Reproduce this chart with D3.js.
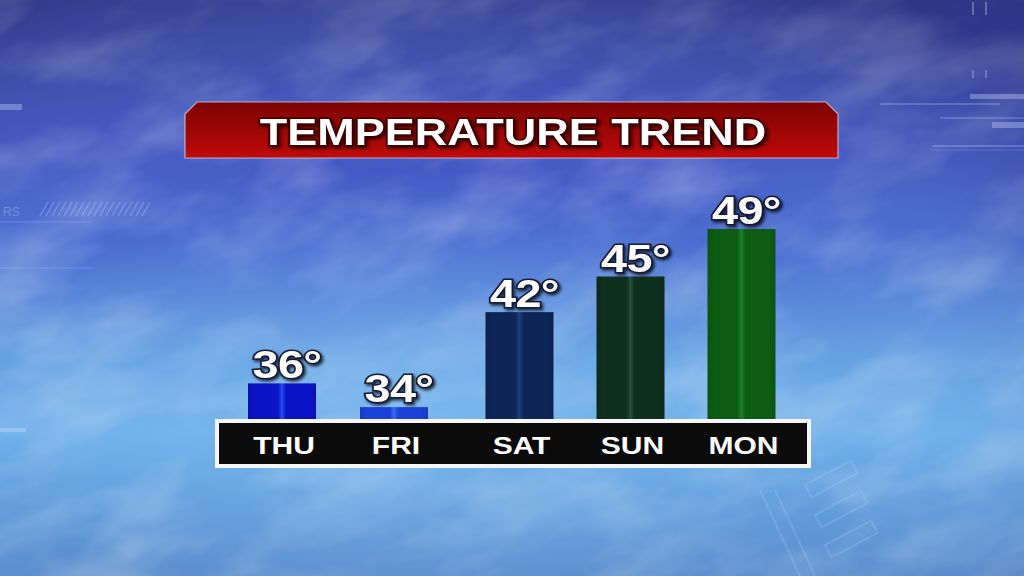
<!DOCTYPE html>
<html>
<head>
<meta charset="utf-8">
<script src="https://cdn.jsdelivr.net/npm/d3@7"></script>
<style>
html,body{margin:0;padding:0;background:#3a4aa8;overflow:hidden;}
svg{display:block;}
</style>
</head>
<body>
<svg id="chart" width="1024" height="576"></svg>
<script>
// ---- data ----
const title = "TEMPERATURE TREND";
const days = ["THU", "FRI", "SAT", "SUN", "MON"];
const temps = [36, 34, 42, 45, 49];
const barColors = ["#0a14c6", "#1a42d6", "#0e2558", "#0f2f1f", "#0c5d13"];
const stripeColors = ["#2a4cf2", "#3a6af2", "#1f3e7c", "#22503a", "#1e8028"];

// ---- layout ----
const W = 1024, H = 576;
const baseY = 419;
const barW = 68;
const svg = d3.select("#chart");
const defs = svg.append("defs");

// background gradient
const bg = defs.append("linearGradient").attr("id","bg").attr("x1",0).attr("y1",0).attr("x2",0).attr("y2",1);
[[0,"#37419c"],[0.22,"#3f4fbe"],[0.42,"#4a6cd0"],[0.62,"#66a2e2"],[0.75,"#70b0ea"],[0.9,"#5f9ad8"],[1,"#5a8ccc"]]
  .forEach(s=>bg.append("stop").attr("offset",s[0]).attr("stop-color",s[1]));
const vig = defs.append("radialGradient").attr("id","vig").attr("cx",0.42).attr("cy",0.72).attr("r",0.85);
vig.append("stop").attr("offset",0).attr("stop-color","#9ad4ff").attr("stop-opacity",0.25);
vig.append("stop").attr("offset",0.5).attr("stop-color","#9ad4ff").attr("stop-opacity",0);
vig.append("stop").attr("offset",1).attr("stop-color","#1a1f5a").attr("stop-opacity",0.35);

// cloud texture
const cf = defs.append("filter").attr("id","clouds").attr("x",0).attr("y",0).attr("width",1).attr("height",1);
cf.append("feTurbulence").attr("type","fractalNoise").attr("baseFrequency","0.008 0.017").attr("numOctaves",4).attr("seed",7).attr("result","n");
cf.append("feColorMatrix").attr("in","n").attr("type","matrix")
  .attr("values","0 0 0 0 1  0 0 0 0 1  0 0 0 0 1  1.6 0 0 0 -0.62");

svg.append("rect").attr("width",W).attr("height",H).attr("fill","url(#bg)");
svg.append("g").attr("transform","rotate(-18 512 288)")
  .append("rect").attr("x",-300).attr("y",-300).attr("width",1624).attr("height",1176)
  .attr("filter","url(#clouds)").attr("opacity",0.34);
svg.append("rect").attr("width",W).attr("height",H).attr("fill","url(#vig)");

// HUD decorations
const hud = svg.append("g").attr("stroke","#c8d4ff").attr("fill","none");
[[880,104,1000,104,0.35,1.5],[940,118,1024,118,0.3,1.5],[932,146,1024,146,0.35,1.5],[930,150,1024,150,0.2,1],
 [0,222,92,222,0.25,1],[0,268,93,268,0.25,1],[973,2,973,15,0.45,1.5],[986,2,986,15,0.45,1.5],
 [973,70,973,78,0.4,1.5],[986,70,986,78,0.4,1.5]]
  .forEach(l=>hud.append("line").attr("x1",l[0]).attr("y1",l[1]).attr("x2",l[2]).attr("y2",l[3])
    .attr("stroke-opacity",l[4]).attr("stroke-width",l[5]));
[[970,94,54,5],[992,122,32,6],[0,104,22,6],[0,428,26,4]].forEach(r=>
  svg.append("rect").attr("x",r[0]).attr("y",r[1]).attr("width",r[2]).attr("height",r[3])
    .attr("fill","#d0dcff").attr("opacity",0.35));
const hatch = svg.append("g").attr("stroke","#c8d4ff").attr("stroke-opacity",0.3).attr("stroke-width",1.5);
d3.range(0,18).forEach(i=>hatch.append("line").attr("x1",40+i*6).attr("y1",216).attr("x2",48+i*6).attr("y2",202));
svg.append("text").attr("x",3).attr("y",216).attr("font-family","Liberation Sans, Arial").attr("font-size",12)
  .attr("fill","#c8d4ff").attr("fill-opacity",0.35).text("RS");
const hud2 = svg.append("g").attr("stroke","#b8d8ff").attr("stroke-opacity",0.2).attr("stroke-width",2).attr("fill","none");
[[805,485],[815,515],[825,545]].forEach(p=>hud2.append("rect").attr("x",p[0]).attr("y",p[1]).attr("width",52).attr("height",14)
  .attr("transform",`rotate(-28 ${p[0]} ${p[1]})`));
hud2.append("line").attr("x1",760).attr("y1",490).attr("x2",800).attr("y2",576);
hud2.append("line").attr("x1",775).attr("y1",490).attr("x2",815).attr("y2",576);

// ---- title banner ----
const tg = defs.append("linearGradient").attr("id","tg").attr("x1",0).attr("y1",0).attr("x2",0).attr("y2",1);
tg.append("stop").attr("offset",0).attr("stop-color","#7c0202");
tg.append("stop").attr("offset",1).attr("stop-color","#bf0a0a");
const shadow = defs.append("filter").attr("id","ts").attr("x","-10%").attr("y","-30%").attr("width","120%").attr("height","160%");
shadow.append("feDropShadow").attr("dx",1.5).attr("dy",2).attr("stdDeviation",1.5).attr("flood-color","#000").attr("flood-opacity",0.75);

const bx0 = 185, bx1 = 838, by0 = 102, by1 = 158, ch = 12;
svg.append("path")
  .attr("d",`M${bx0},${by0+ch}L${bx0+ch},${by0}L${bx1-ch},${by0}L${bx1},${by0+ch}L${bx1},${by1}L${bx0},${by1}Z`)
  .attr("fill","url(#tg)").attr("stroke","#c9cde8").attr("stroke-width",1.2).attr("stroke-opacity",0.8);
svg.append("g").attr("transform","translate(513,145) scale(1.25,1)")
  .append("text").attr("text-anchor","middle")
  .attr("font-family","Liberation Sans, Arial, sans-serif").attr("font-weight","bold").attr("font-size",36)
  .attr("fill","#ffffff").attr("stroke","#3a0000").attr("stroke-width",3).attr("paint-order","stroke")
  .attr("filter","url(#ts)").text(title);

// ---- scales ----
const x = d3.scaleOrdinal().domain(days).range([282, 394, 519.5, 630.5, 741.5]);
const y = d3.scaleLinear().domain([33.0, 49]).range([baseY, 229]);

// bar gradients
days.forEach((d,i)=>{
  const g = defs.append("linearGradient").attr("id","bar"+i).attr("x1",0).attr("x2",1).attr("y1",0).attr("y2",0);
  const base = d3.color(barColors[i]);
  [[0,base.darker(0.35)],[0.1,base],[0.44,base],[0.5,d3.color(stripeColors[i])],[0.56,base],[0.9,base],[1,base.darker(0.35)]]
    .forEach(s=>g.append("stop").attr("offset",s[0]).attr("stop-color",s[1]));
});

// ---- axis band ----
svg.append("rect").attr("x",217).attr("y",421).attr("width",592).attr("height",45)
  .attr("fill","#0b0b0b").attr("stroke","#f4f6fa").attr("stroke-width",4);

// ---- bars ----
svg.append("g").selectAll("rect").data(days).join("rect")
  .attr("x",d=>x(d)-barW/2).attr("width",barW)
  .attr("y",(d,i)=>y(temps[i])).attr("height",(d,i)=>baseY-y(temps[i]))
  .attr("fill",(d,i)=>`url(#bar${i})`);

// value labels
svg.append("g").selectAll("g").data(days).join("g")
  .attr("transform",(d,i)=>`translate(${x(d)+5},${y(temps[i])-5}) scale(1.2,1)`)
  .append("text").attr("text-anchor","middle")
  .attr("font-family","Liberation Sans, Arial, sans-serif").attr("font-weight","bold").attr("font-size",39)
  .attr("letter-spacing",-0.5)
  .attr("fill","#ffffff").attr("stroke","#141a36").attr("stroke-width",3).attr("paint-order","stroke")
  .attr("filter","url(#ts)")
  .text((d,i)=>temps[i]+"°");

// day labels (axis)
const axis = d3.axisBottom(x).tickSize(0).tickPadding(0);
const ax = svg.append("g").attr("transform","translate(0,454)").call(axis);
ax.select(".domain").remove();
ax.selectAll(".tick text")
  .attr("dy",0).attr("y",0)
  .attr("font-family","Liberation Sans, Arial, sans-serif").attr("font-weight","bold").attr("font-size",24)
  .attr("fill","#ffffff").attr("text-anchor","middle")
  .attr("transform","scale(1.25,1)");
ax.selectAll(".tick").attr("transform",d=>`translate(${x(d)+2},0)`);
</script>
</body>
</html>
